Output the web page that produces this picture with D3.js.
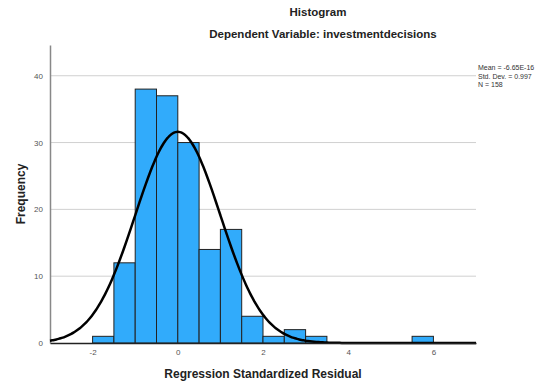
<!DOCTYPE html>
<html>
<head>
<meta charset="utf-8">
<script src="https://cdn.jsdelivr.net/npm/d3@7"></script>
<style>
  body { margin: 0; background: #fff; }
  text { font-family: "Liberation Sans", Arial, sans-serif; }
</style>
</head>
<body>
<div id="chart"></div>
<script>
// histogram bins (lower edge, width 0.5) and counts
const binStarts = [-2, -1.5, -1, -0.5, 0, 0.5, 1, 1.5, 2, 2.5, 3, 5.5];
const counts = [1, 12, 38, 37, 30, 14, 17, 4, 1, 2, 1, 1];
const binWidth = 0.5;
const xTicks = [-2, 0, 2, 4, 6];
const yTicks = [0, 10, 20, 30, 40];
const stats = ["Mean = -6.65E-16", "Std. Dev. = 0.997", "N = 158"];
const mean = 0, sd = 0.997, n = 158;

const width = 548, height = 385;
const margin = { top: 45, right: 72, bottom: 42, left: 50 };
const w = width - margin.left - margin.right;
const h = height - margin.top - margin.bottom;

const svg = d3.select('#chart').append('svg')
  .attr('width', width)
  .attr('height', height);

const g = svg.append('g')
  .attr('transform', `translate(${margin.left},${margin.top})`);

const x = d3.scaleLinear().domain([-3, 7]).range([0, w]);
const y = d3.scaleLinear().domain([0, 44.6]).range([h, 0]);

// titles
svg.append('text')
  .attr('x', 318).attr('y', 16)
  .attr('text-anchor', 'middle')
  .style('font-size', '11.5px').style('font-weight', 'bold').style('fill', '#222')
  .text('Histogram');
svg.append('text')
  .attr('x', 323).attr('y', 38)
  .attr('text-anchor', 'middle')
  .style('font-size', '11.5px').style('font-weight', 'bold').style('fill', '#222')
  .text('Dependent Variable: investmentdecisions');

// gridlines
g.selectAll('.grid')
  .data(yTicks.filter(d => d > 0))
  .enter()
  .append('line')
  .attr('x1', 0).attr('x2', w)
  .attr('y1', d => y(d)).attr('y2', d => y(d))
  .attr('stroke', '#d0d0d0').attr('stroke-width', 1);

// y axis
const yAxis = g.append('g')
  .call(d3.axisLeft(y).tickValues(yTicks).tickSize(0).tickPadding(7));
yAxis.select('.domain').attr('stroke', '#888').attr('stroke-width', 1.5);
yAxis.selectAll('text').style('font-size', '8px').style('fill', '#555');

// bars
g.selectAll('rect')
  .data(binStarts)
  .enter()
  .append('rect')
  .attr('x', d => x(d))
  .attr('y', (d, i) => y(counts[i]))
  .attr('width', d => x(d + binWidth) - x(d))
  .attr('height', (d, i) => y(0) - y(counts[i]))
  .attr('fill', '#31abfb')
  .attr('stroke', '#222')
  .attr('stroke-width', 1);

// normal curve
const curveX = d3.range(-3, 7.001, 0.05);
const line = d3.line()
  .x(d => x(d))
  .y(d => y(n * binWidth * Math.exp(-0.5 * ((d - mean) / sd) ** 2) / (sd * Math.sqrt(2 * Math.PI))))
  .curve(d3.curveBasis);
g.append('path')
  .datum(curveX)
  .attr('d', line)
  .attr('fill', 'none')
  .attr('stroke', '#000')
  .attr('stroke-width', 2.5);

// x axis
const xAxis = g.append('g')
  .attr('transform', `translate(0,${h})`)
  .call(d3.axisBottom(x).tickValues(xTicks).tickSize(0).tickPadding(6).tickFormat(d => String(d)));
xAxis.select('.domain').attr('stroke', '#222').attr('stroke-width', 1.5);
xAxis.selectAll('text').style('font-size', '8px').style('fill', '#555');

// axis titles
svg.append('text')
  .attr('x', margin.left + x(2)).attr('y', 378)
  .attr('text-anchor', 'middle')
  .style('font-size', '12px').style('font-weight', 'bold').style('fill', '#222')
  .text('Regression Standardized Residual');
svg.append('text')
  .attr('transform', `translate(25,${margin.top + h / 2}) rotate(-90)`)
  .attr('text-anchor', 'middle')
  .style('font-size', '12px').style('font-weight', 'bold').style('fill', '#222')
  .text('Frequency');

// stats box
svg.selectAll('.stat')
  .data(stats)
  .enter()
  .append('text')
  .attr('class', 'stat')
  .attr('x', margin.left + w + 2)
  .attr('y', (d, i) => 70 + i * 8.5)
  .style('font-size', '7px').style('fill', '#333')
  .text(d => d);
</script>
</body>
</html>
